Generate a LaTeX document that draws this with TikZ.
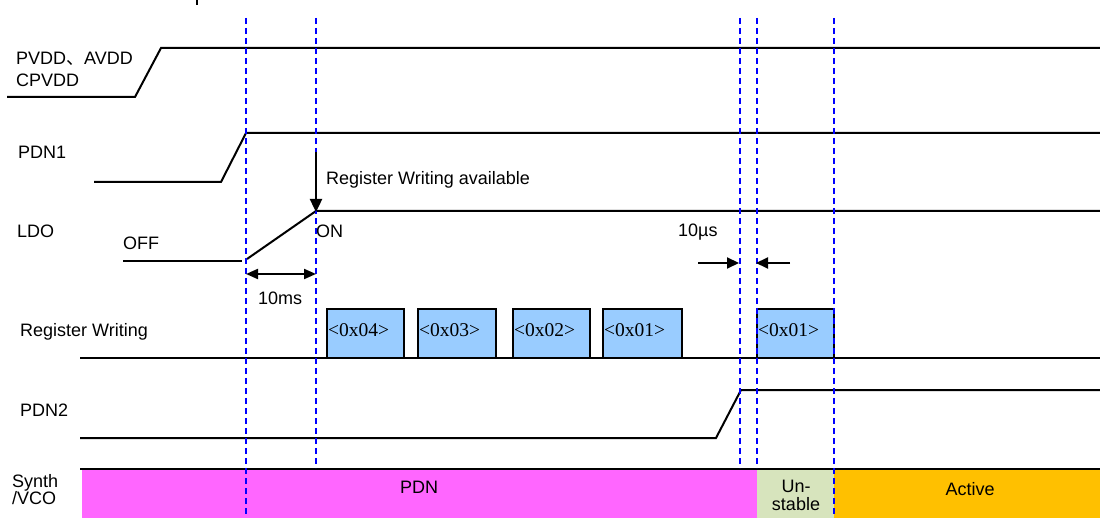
\documentclass[tikz,border=0pt]{standalone}
\usepackage{fontspec}
\setmainfont{Liberation Sans}
\newfontfamily\cjk{Noto Sans CJK SC}
\newfontfamily\hexfont{Liberation Serif}
\usetikzlibrary{arrows.meta,positioning}
\definecolor{guideblue}{RGB}{0,0,255}
\definecolor{regblue}{RGB}{153,204,255}
\definecolor{pdnpink}{RGB}{255,102,255}
\definecolor{unstgreen}{RGB}{215,228,189}
\definecolor{actorange}{RGB}{255,192,0}

\begin{document}
\begin{tikzpicture}[x=1pt, y=-1pt, font=\fontsize{18}{21}\selectfont,
    sig/.style={line width=2pt, black},
    guide/.style={line width=2pt, guideblue, dash pattern=on 6pt off 4pt},
    regbox/.style={draw=black, line width=1.6pt, fill=regblue},
    lbl/.style={anchor=base west, inner sep=0pt},
    mid/.style={anchor=base, inner sep=0pt},
    hexlbl/.style={anchor=base west, inner sep=0pt, font=\hexfont\fontsize{19.5}{22}\selectfont},
    tip/.style={-{Triangle[length=12pt, width=11pt]}, line width=2pt}]
    \useasboundingbox (0,0) rectangle (1100,518);
    % Synth / VCO state bar
    \fill[pdnpink] (82,470) rectangle (757,518);
    \fill[unstgreen] (757,470) rectangle (834,518);
    \fill[actorange] (834,470) rectangle (1100,518);
    \draw[sig] (80,469) -- (1100,469);
    % signals
    \draw[sig] (7,97) -- (135,97) -- (161,48) -- (1100,48);
    \draw[sig] (94,182) -- (221,182) -- (246,133) -- (1100,133);
    \draw[sig] (123,261) -- (242,261);
    \draw[sig] (247,259) -- (316,211) -- (1100,211);
    \draw[sig] (80,358) -- (1100,358);
    \draw[sig] (80,438) -- (716,438) -- (741,390) -- (1100,390);
    \draw[line width=2pt] (197,0) -- (197,5);
    % register writes
    \foreach \xa/\xb/\hx [count=\i] in {327/404/04, 418/496/03, 513/590/02, 603/682/01, 757/834/01} {
        \draw[regbox] (\xa,309) rectangle (\xb,358);
        \node[hexlbl] (reg\i) at (\xa+1,337) {\textless0x\hx\textgreater};
    }
    % guides
    \foreach \gx/\gb in {246/518, 316/468, 740/468, 757/468, 834/518}
        \draw[guide] (\gx,18) -- (\gx,\gb);
    % arrows
    \coordinate (availtop) at (316,152);
    \coordinate (ldoon) at (316,212);
    \draw[-{Triangle[length=13pt, width=12pt]}, line width=2.4pt] (availtop) -- (ldoon);
    \coordinate (msl) at (246,274);
    \coordinate (msr) at (316,274);
    \draw[tip, {Triangle[length=12pt, width=10pt]}-{Triangle[length=12pt, width=10pt]}] (msl) -- (msr);
    \coordinate (usla) at (698,263);
    \coordinate (uslb) at (739,263);
    \coordinate (usra) at (790,263);
    \coordinate (usrb) at (756,263);
    \draw[tip] (usla) -- (uslb);
    \draw[tip] (usra) -- (usrb);
    % labels
    \node[lbl] (pvdd) at (16,65) {PVDD{\cjk 、}AVDD};
    \node[lbl] (cpvdd) at (16,87) {CPVDD};
    \node[lbl] (pdn1) at (18,159) {PDN1};
    \node[lbl] (ldo) at (17,238) {LDO};
    \node[lbl] (off) at (123,250) {OFF};
    \node[lbl] (on) at (316,238) {ON};
    \node[lbl] (avail) at (326,185) {Register Writing available};
    \node[lbl] (ms) at (258,305) {10ms};
    \node[lbl] (us) at (678,237) {10µs};
    \node[lbl] (regw) at (20,337) {Register Writing};
    \node[lbl] (pdn2) at (20,416) {PDN2};
    \node[lbl] (synth) at (12,487) {Synth};
    \node[lbl] (vco) at (12,504) {/VCO};
    \node[mid] (pdn) at (419,493) {PDN};
    \node[mid] (unsta) at (796,492) {Un-};
    \node[mid] (unstb) at (796,510) {stable};
    \node[mid] (active) at (970,495) {Active};
\end{tikzpicture}
\end{document}
